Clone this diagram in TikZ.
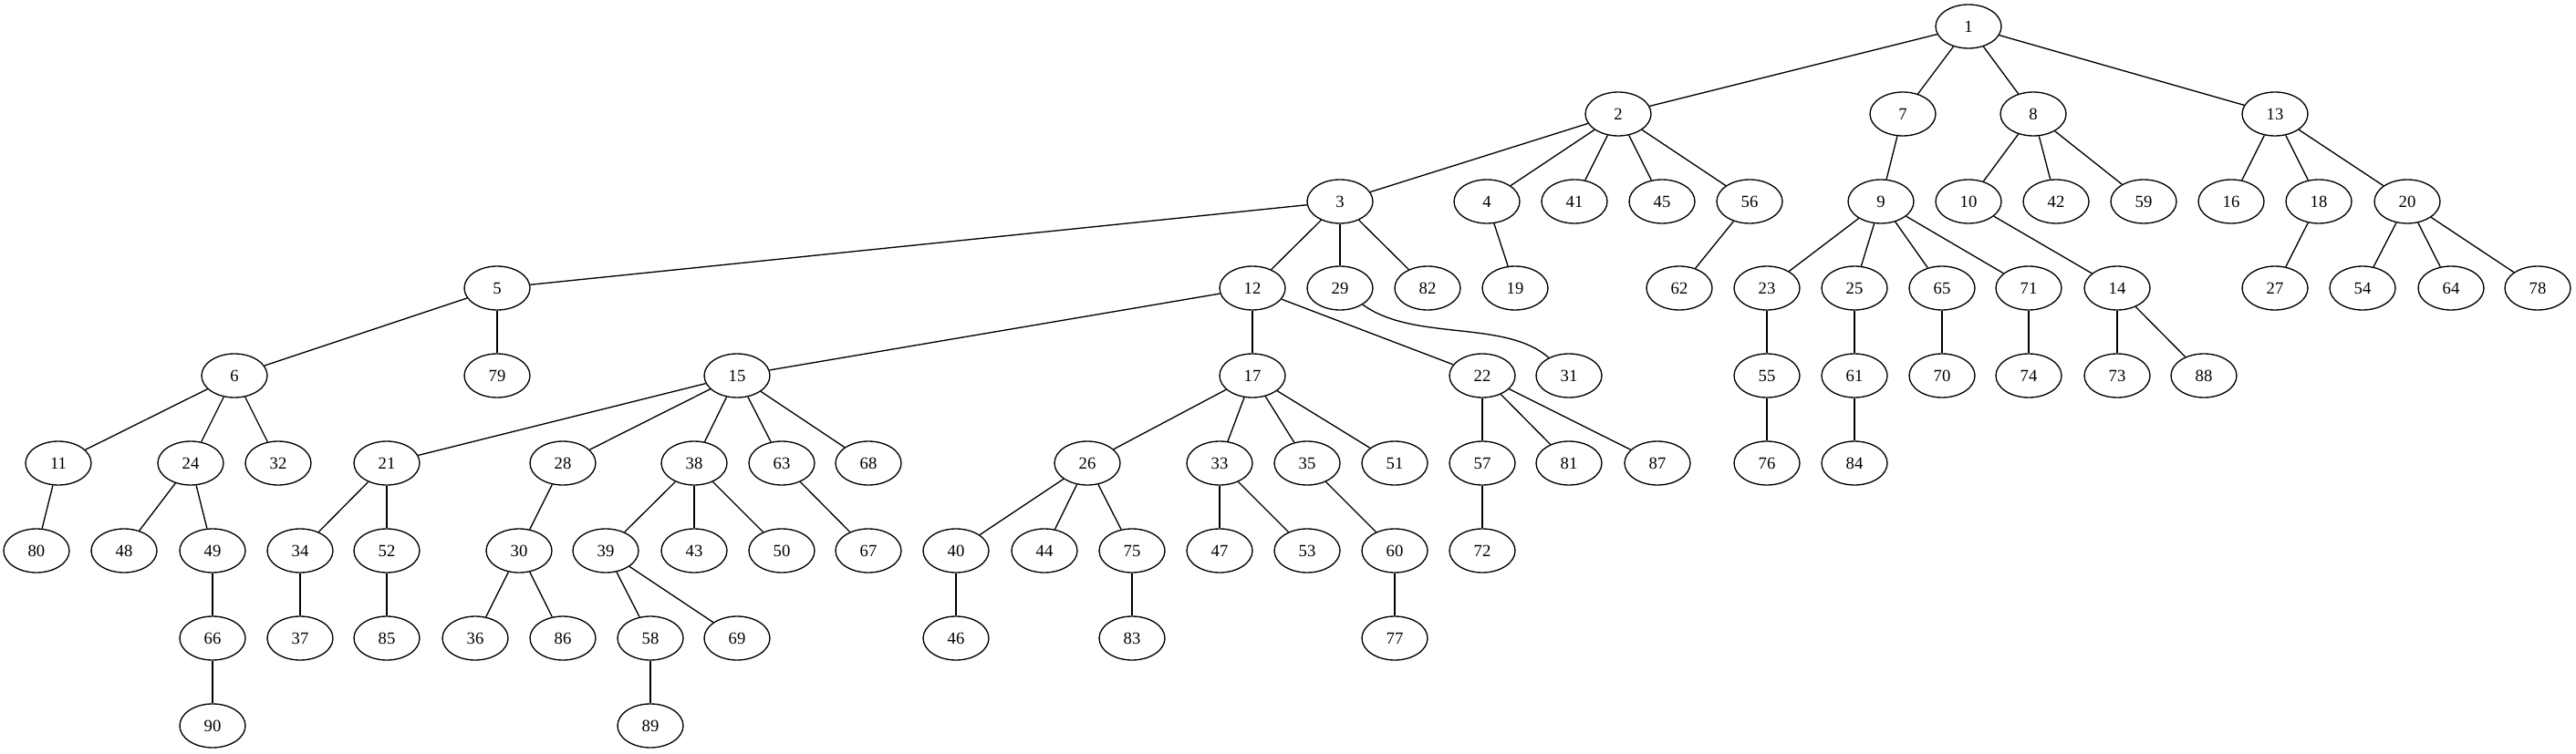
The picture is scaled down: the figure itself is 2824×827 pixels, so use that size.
\documentclass[tikz,border=0pt]{standalone}
\usepackage{fontspec}
\setmainfont{Liberation Serif}
\usepackage{tikz}
\usetikzlibrary{shapes.geometric}

\tikzset{
  vtx/.style={draw, ellipse, line width=1pt, inner sep=0pt,
    minimum width=54pt, minimum height=36pt,
    font=\fontsize{14}{16}\selectfont},
  edge/.style={line width=1pt}
}

\begin{document}
\begin{tikzpicture}[x=0.75pt,y=0.75pt,yscale=-1]
\useasboundingbox (0,0) rectangle (2824,827);

% Rank 0
\node [vtx] (n1) at (2158,29) {1};
% Rank 1
\node [vtx] (n2) at (1774,125) {2};
\node [vtx] (n7) at (2086,125) {7};
\node [vtx] (n8) at (2229,125) {8};
\node [vtx] (n13) at (2494,125) {13};
% Rank 2
\node [vtx] (n3) at (1469,221) {3};
\node [vtx] (n4) at (1630,221) {4};
\node [vtx] (n41) at (1726,221) {41};
\node [vtx] (n45) at (1822,221) {45};
\node [vtx] (n56) at (1918,221) {56};
\node [vtx] (n9) at (2062,221) {9};
\node [vtx] (n10) at (2158,221) {10};
\node [vtx] (n42) at (2254,221) {42};
\node [vtx] (n59) at (2350,221) {59};
\node [vtx] (n16) at (2446,221) {16};
\node [vtx] (n18) at (2542,221) {18};
\node [vtx] (n20) at (2639,221) {20};
% Rank 3
\node [vtx] (n5) at (545,316) {5};
\node [vtx] (n12) at (1373,316) {12};
\node [vtx] (n29) at (1469,316) {29};
\node [vtx] (n82) at (1565,316) {82};
\node [vtx] (n19) at (1661,316) {19};
\node [vtx] (n62) at (1841,316) {62};
\node [vtx] (n23) at (1937,316) {23};
\node [vtx] (n25) at (2033,316) {25};
\node [vtx] (n65) at (2129,316) {65};
\node [vtx] (n71) at (2224,316) {71};
\node [vtx] (n14) at (2321,316) {14};
\node [vtx] (n27) at (2494,316) {27};
\node [vtx] (n54) at (2590,316) {54};
\node [vtx] (n64) at (2687,316) {64};
\node [vtx] (n78) at (2782,316) {78};
% Rank 4
\node [vtx] (n6) at (257,412) {6};
\node [vtx] (n79) at (545,412) {79};
\node [vtx] (n15) at (808,412) {15};
\node [vtx] (n17) at (1373,412) {17};
\node [vtx] (n22) at (1625,412) {22};
\node [vtx] (n31) at (1720,412) {31};
\node [vtx] (n55) at (1937,412) {55};
\node [vtx] (n61) at (2033,412) {61};
\node [vtx] (n70) at (2129,412) {70};
\node [vtx] (n74) at (2224,412) {74};
\node [vtx] (n73) at (2321,412) {73};
\node [vtx] (n88) at (2416,412) {88};
% Rank 5
\node [vtx] (n11) at (64,508) {11};
\node [vtx] (n24) at (209,508) {24};
\node [vtx] (n32) at (305,508) {32};
\node [vtx] (n21) at (424,508) {21};
\node [vtx] (n28) at (617,508) {28};
\node [vtx] (n38) at (761,508) {38};
\node [vtx] (n63) at (857,508) {63};
\node [vtx] (n68) at (952,508) {68};
\node [vtx] (n26) at (1192,508) {26};
\node [vtx] (n33) at (1337,508) {33};
\node [vtx] (n35) at (1433,508) {35};
\node [vtx] (n51) at (1529,508) {51};
\node [vtx] (n57) at (1625,508) {57};
\node [vtx] (n81) at (1720,508) {81};
\node [vtx] (n87) at (1817,508) {87};
\node [vtx] (n76) at (1937,508) {76};
\node [vtx] (n84) at (2033,508) {84};
% Rank 6
\node [vtx] (n80) at (40,604) {80};
\node [vtx] (n48) at (136,604) {48};
\node [vtx] (n49) at (233,604) {49};
\node [vtx] (n34) at (329,604) {34};
\node [vtx] (n52) at (424,604) {52};
\node [vtx] (n30) at (569,604) {30};
\node [vtx] (n39) at (664,604) {39};
\node [vtx] (n43) at (761,604) {43};
\node [vtx] (n50) at (857,604) {50};
\node [vtx] (n67) at (952,604) {67};
\node [vtx] (n40) at (1048,604) {40};
\node [vtx] (n44) at (1145,604) {44};
\node [vtx] (n75) at (1241,604) {75};
\node [vtx] (n47) at (1337,604) {47};
\node [vtx] (n53) at (1433,604) {53};
\node [vtx] (n60) at (1529,604) {60};
\node [vtx] (n72) at (1625,604) {72};
% Rank 7
\node [vtx] (n66) at (233,700) {66};
\node [vtx] (n37) at (329,700) {37};
\node [vtx] (n85) at (424,700) {85};
\node [vtx] (n36) at (521,700) {36};
\node [vtx] (n86) at (617,700) {86};
\node [vtx] (n58) at (713,700) {58};
\node [vtx] (n69) at (808,700) {69};
\node [vtx] (n46) at (1048,700) {46};
\node [vtx] (n83) at (1241,700) {83};
\node [vtx] (n77) at (1529,700) {77};
% Rank 8
\node [vtx] (n90) at (233,796) {90};
\node [vtx] (n89) at (713,796) {89};

% Connections
\draw [edge] (n1) -- (n2);
\draw [edge] (n1) -- (n7);
\draw [edge] (n1) -- (n8);
\draw [edge] (n1) -- (n13);
\draw [edge] (n2) -- (n3);
\draw [edge] (n2) -- (n4);
\draw [edge] (n2) -- (n41);
\draw [edge] (n2) -- (n45);
\draw [edge] (n2) -- (n56);
\draw [edge] (n7) -- (n9);
\draw [edge] (n8) -- (n10);
\draw [edge] (n8) -- (n42);
\draw [edge] (n8) -- (n59);
\draw [edge] (n13) -- (n16);
\draw [edge] (n13) -- (n18);
\draw [edge] (n13) -- (n20);
\draw [edge] (n3) -- (n5);
\draw [edge] (n3) -- (n12);
\draw [edge] (n3) -- (n29);
\draw [edge] (n3) -- (n82);
\draw [edge] (n4) -- (n19);
\draw [edge] (n56) -- (n62);
\draw [edge] (n9) -- (n23);
\draw [edge] (n9) -- (n25);
\draw [edge] (n9) -- (n65);
\draw [edge] (n9) -- (n71);
\draw [edge] (n10) -- (n14);
\draw [edge] (n18) -- (n27);
\draw [edge] (n20) -- (n54);
\draw [edge] (n20) -- (n64);
\draw [edge] (n20) -- (n78);
\draw [edge] (n5) -- (n6);
\draw [edge] (n5) -- (n79);
\draw [edge] (n12) -- (n15);
\draw [edge] (n12) -- (n17);
\draw [edge] (n12) -- (n22);
\draw [edge] (n29) .. controls (1550,375) and (1650,350) .. (n31);
\draw [edge] (n23) -- (n55);
\draw [edge] (n25) -- (n61);
\draw [edge] (n65) -- (n70);
\draw [edge] (n71) -- (n74);
\draw [edge] (n14) -- (n73);
\draw [edge] (n14) -- (n88);
\draw [edge] (n55) -- (n76);
\draw [edge] (n61) -- (n84);
\draw [edge] (n6) -- (n11);
\draw [edge] (n6) -- (n24);
\draw [edge] (n6) -- (n32);
\draw [edge] (n15) -- (n21);
\draw [edge] (n15) -- (n28);
\draw [edge] (n15) -- (n38);
\draw [edge] (n15) -- (n63);
\draw [edge] (n15) -- (n68);
\draw [edge] (n17) -- (n26);
\draw [edge] (n17) -- (n33);
\draw [edge] (n17) -- (n35);
\draw [edge] (n17) -- (n51);
\draw [edge] (n22) -- (n57);
\draw [edge] (n22) -- (n81);
\draw [edge] (n22) -- (n87);
\draw [edge] (n11) -- (n80);
\draw [edge] (n24) -- (n48);
\draw [edge] (n24) -- (n49);
\draw [edge] (n21) -- (n34);
\draw [edge] (n21) -- (n52);
\draw [edge] (n28) -- (n30);
\draw [edge] (n38) -- (n39);
\draw [edge] (n38) -- (n43);
\draw [edge] (n38) -- (n50);
\draw [edge] (n63) -- (n67);
\draw [edge] (n26) -- (n40);
\draw [edge] (n26) -- (n44);
\draw [edge] (n26) -- (n75);
\draw [edge] (n33) -- (n47);
\draw [edge] (n33) -- (n53);
\draw [edge] (n35) -- (n60);
\draw [edge] (n57) -- (n72);
\draw [edge] (n49) -- (n66);
\draw [edge] (n34) -- (n37);
\draw [edge] (n52) -- (n85);
\draw [edge] (n30) -- (n36);
\draw [edge] (n30) -- (n86);
\draw [edge] (n39) -- (n58);
\draw [edge] (n39) -- (n69);
\draw [edge] (n40) -- (n46);
\draw [edge] (n75) -- (n83);
\draw [edge] (n60) -- (n77);
\draw [edge] (n66) -- (n90);
\draw [edge] (n58) -- (n89);

\end{tikzpicture}
\end{document}
